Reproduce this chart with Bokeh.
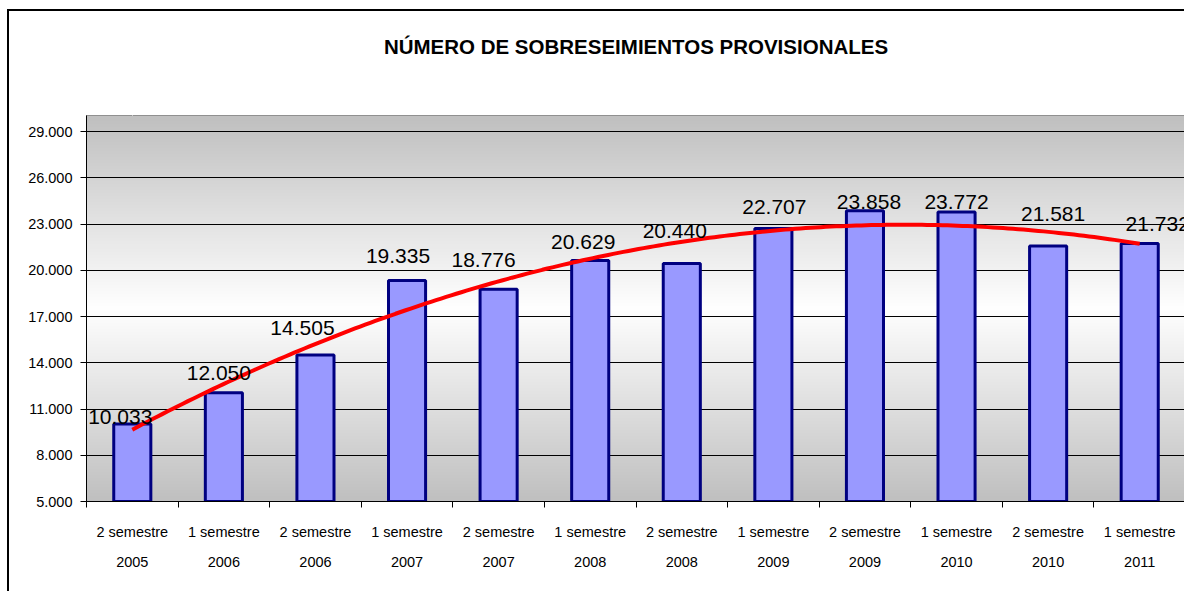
import numpy as np
from bokeh.plotting import figure
from bokeh.models import Range1d, FixedTicker, LinearAxis, LabelSet, ColumnDataSource
from bokeh.core.properties import value
from bokeh.embed import file_html
from bokeh.resources import INLINE

# ---- data ----
semestres = ["2 semestre", "1 semestre", "2 semestre", "1 semestre", "2 semestre", "1 semestre",
             "2 semestre", "1 semestre", "2 semestre", "1 semestre", "2 semestre", "1 semestre"]
anios = ["2005", "2006", "2006", "2007", "2007", "2008", "2008", "2009", "2009", "2010", "2010", "2011"]
valores = [10033, 12050, 14505, 19335, 18776, 20629, 20440, 22707, 23858, 23772, 21581, 21732]
y_ticks = [5000, 8000, 11000, 14000, 17000, 20000, 23000, 26000, 29000]
titulo = "NÚMERO DE SOBRESEIMIENTOS PROVISIONALES"

# label pixel nudges (style)
label_dx = [-12, -5, -13, -9, -15, -7, -7, 1, 4, 0, 5, 18]
label_dy = [0, 13, 20, 18, 22, 12, 25, 15, 2, 3, 25, 13]

def fmt(v):
    return f"{v:,}".replace(",", ".")

pos = list(range(1, len(valores) + 1))
etiquetas = [fmt(v) for v in valores]

y_start, y_end = 5000, 30040
FONT = "Liberation Sans"

H = 582
p = figure(width=1177, height=H, output_backend="svg", toolbar_location=None,
           x_range=Range1d(0.5, 12.5), y_range=Range1d(y_start, y_end),
           min_border_left=77, min_border_right=1, min_border_top=104, min_border_bottom=H - 490)
p.styles = {"margin-left": "7px", "margin-top": "9px",
            "border-left": "2px solid #000", "border-top": "2px solid #000"}
p.background_fill_color = "white"
p.border_fill_color = "white"
p.outline_line_color = "#808080"
p.outline_line_width = 1

xa = p.below[0]   # default x axis (semester line)
ya = p.left[0]

# title
p.title.text = titulo
p.title.align = "center"
p.title.text_font = FONT
p.title.text_font_style = "bold"
p.title.text_font_size = "20.5px"
p.title.text_color = "black"
p.title.offset = -30
p.title.standoff = 42

# invisible spacer between title and plot area (white tick, no label text)
spacer = LinearAxis(ticker=FixedTicker(ticks=[1], minor_ticks=[]))
spacer.axis_line_color = None
spacer.major_tick_line_color = "white"
spacer.minor_tick_line_color = None
spacer.major_tick_in = 0
spacer.major_tick_out = 37
spacer.minor_tick_out = 0
spacer.major_label_standoff = 0
spacer.major_label_text_color = None
spacer.major_label_text_font_size = "1px"
p.add_layout(spacer, "above")

# gradient background
n = 256
t = np.linspace(0, 1, n)
g = (192 + 63 * (1 - np.abs(2 * t - 1))).astype(np.uint32)
img = ((255 << 24) | (g << 16) | (g << 8) | g).astype(np.uint32).reshape(n, 1)
p.image_rgba(image=[img], x=0.5, y=y_start, dw=12, dh=y_end - y_start, level="image")

# grid
p.xgrid.grid_line_color = None
p.ygrid.grid_line_color = "black"
p.ygrid.grid_line_width = 1

# y axis
ya.ticker = FixedTicker(ticks=y_ticks)
ya.major_label_overrides = {v: fmt(v) for v in y_ticks}
ya.minor_tick_line_color = None
ya.major_tick_out = 6
ya.major_tick_in = 0
ya.major_tick_line_color = "black"
ya.axis_line_color = "black"
ya.major_label_text_font = FONT
ya.major_label_text_font_size = "14.5px"
ya.major_label_text_color = "black"
ya.major_label_standoff = 8

# x axis (semester line)
xa.ticker = FixedTicker(ticks=pos, minor_ticks=[i + 0.5 for i in range(0, 13)])
xa.major_label_overrides = {i: s for i, s in zip(pos, semestres)}
xa.major_tick_line_color = None
xa.major_tick_out = 0
xa.major_tick_in = 0
xa.minor_tick_line_color = "black"
xa.minor_tick_out = 6
xa.minor_tick_in = 0
xa.axis_line_color = "black"
xa.major_label_text_font = FONT
xa.major_label_text_font_size = "14.5px"
xa.major_label_text_color = "black"
xa.major_label_standoff = 16

# x axis (year line)
xa2 = LinearAxis(ticker=FixedTicker(ticks=pos, minor_ticks=[]))
xa2.major_label_overrides = {i: s for i, s in zip(pos, anios)}
xa2.axis_line_color = None
xa2.major_tick_line_color = None
xa2.minor_tick_line_color = None
xa2.major_tick_out = 0
xa2.major_tick_in = 0
xa2.major_label_text_font = FONT
xa2.major_label_text_font_size = "14.5px"
xa2.major_label_text_color = "black"
xa2.major_label_standoff = 14
p.add_layout(xa2, "below")

# bars
src = ColumnDataSource(dict(x=pos, top=valores, label=etiquetas, dx=label_dx, dy=label_dy))
p.vbar(x="x", top="top", bottom=y_start, width=0.405, source=src,
       fill_color="#9999FF", line_color="#000080", line_width=3)

# polynomial (order 2) trend line fitted to the data
coef = np.polyfit(pos, valores, 2)
xt = np.linspace(1, 12, 200)
p.line(xt, np.polyval(coef, xt), line_color="#FF0000", line_width=4)

# data labels
labels = LabelSet(x="x", y="top", text="label", x_offset="dx", y_offset="dy", source=src,
                  text_align="center", text_baseline="alphabetic",
                  text_font=value(FONT), text_font_size=value("21px"), text_color="black")
p.add_layout(labels)

open("out.html", "w").write(file_html(p, INLINE))
